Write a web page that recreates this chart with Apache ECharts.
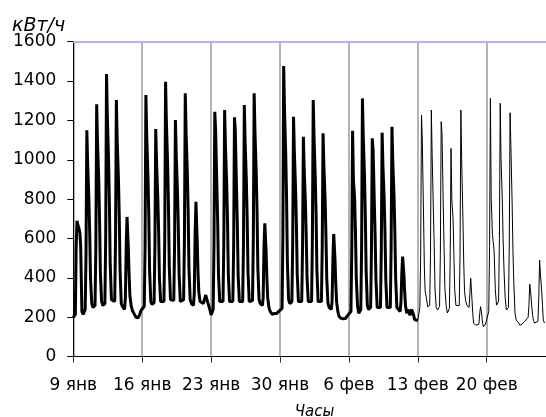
<!DOCTYPE html>
<html><head><meta charset="utf-8">
<script src="https://cdn.jsdelivr.net/npm/echarts@6/dist/echarts.min.js"></script>
<style>html,body{margin:0;padding:0;background:#fff}#c{width:546px;height:417px}</style>
</head><body><div id="c"></div>
<script>
// Tick labels (week starts) and title texts
const weekLabels = ['9 янв', '16 янв', '23 янв', '30 янв', '6 фев', '13 фев', '20 фев'];
const yTitle = 'кВт/ч';
const xTitle = 'Часы';
// Hours of day at which each daily profile was read
const hoursOfDay = [0, 5, 7, 9, 11, 14, 16, 18, 21];
// Load, kW, one row per day
const week1 = [ // 9–15 янв
  [200, 215, 560, 690, 670, 650, 630, 560, 230],
  [215, 240, 520, 1150, 980, 800, 630, 400, 270],
  [250, 260, 560, 1282, 1090, 900, 700, 430, 280],
  [260, 270, 600, 1436, 1220, 1000, 780, 470, 290],
  [285, 280, 600, 1304, 1100, 910, 720, 440, 270],
  [254, 240, 300, 560, 710, 560, 420, 310, 260],
  [235, 215, 205, 200, 200, 198, 205, 215, 235]
];
const week2 = [ // 16–22 янв
  [240, 255, 560, 1329, 1130, 920, 730, 440, 280],
  [265, 275, 560, 1157, 990, 810, 640, 400, 280],
  [270, 280, 600, 1397, 1190, 980, 770, 460, 290],
  [280, 285, 580, 1202, 1020, 840, 660, 420, 280],
  [280, 290, 600, 1338, 1140, 940, 740, 450, 290],
  [270, 260, 320, 620, 787, 600, 430, 330, 280],
  [275, 270, 272, 300, 313, 290, 275, 265, 240]
];
const week3 = [ // 23–29 янв
  [212, 240, 560, 1244, 1151, 870, 690, 420, 280],
  [270, 280, 580, 1253, 1070, 880, 690, 420, 280],
  [270, 280, 560, 1216, 1150, 850, 670, 410, 280],
  [270, 280, 580, 1278, 1090, 890, 700, 430, 280],
  [270, 285, 600, 1338, 1140, 940, 740, 450, 290],
  [270, 260, 300, 560, 677, 540, 400, 300, 250],
  [230, 215, 210, 215, 220, 215, 220, 225, 230]
];
const week4 = [ // 30 янв – 5 фев
  [225, 245, 600, 1476, 1250, 1030, 810, 480, 290],
  [270, 280, 580, 1219, 1040, 850, 670, 420, 280],
  [270, 280, 560, 1117, 950, 780, 610, 400, 280],
  [270, 280, 600, 1304, 1110, 910, 720, 440, 280],
  [270, 280, 560, 1135, 970, 800, 620, 400, 270],
  [250, 240, 280, 500, 623, 500, 370, 280, 230],
  [205, 195, 190, 188, 192, 190, 195, 200, 210]
];
const week5 = [ // 6–12 фев
  [210, 230, 540, 1148, 900, 800, 630, 400, 260],
  [220, 240, 560, 1312, 1115, 920, 720, 440, 260],
  [240, 250, 540, 1109, 1050, 780, 610, 390, 250],
  [240, 250, 540, 1138, 970, 800, 630, 390, 250],
  [240, 250, 560, 1168, 990, 820, 640, 400, 250],
  [240, 230, 280, 420, 508, 420, 330, 260, 220],
  [240, 210, 215, 240, 247, 210, 190, 200, 185]
];
const week6 = [ // 13–19 фев
  [186, 250, 520, 1228, 1100, 720, 450, 330, 300],
  [254, 260, 520, 1253, 1025, 740, 560, 340, 250],
  [237, 255, 520, 1194, 1135, 780, 560, 350, 260],
  [222, 245, 500, 1058, 796, 700, 520, 340, 260],
  [250, 260, 520, 1253, 1000, 700, 480, 330, 280],
  [260, 250, 320, 398, 330, 220, 171, 165, 160],
  [160, 165, 220, 254, 230, 170, 152, 155, 165]
];
const week7 = [ // 20–25 фев
  [171, 230, 560, 1312, 800, 620, 580, 540, 340],
  [262, 280, 600, 1287, 1000, 800, 600, 450, 300],
  [237, 250, 560, 1239, 1067, 780, 540, 380, 222],
  [186, 175, 165, 160, 160, 165, 170, 175, 180],
  [186, 200, 260, 369, 330, 254, 210, 185, 171],
  [171, 180, 300, 491, 420, 339, 260, 186, 171]
];
const thinFromDay = 35; // 13 фев: line becomes thin
const hoursPerWeek = 168;
const yMax = 1600;

const days = [].concat(week1, week2, week3, week4, week5, week6, week7);
const thick = [], thin = [];
days.forEach((row, d) => row.forEach((v, j) => {
  const p = [d * 24 + hoursOfDay[j], v];
  (d < thinFromDay ? thick : thin).push(p);
}));
thick.push(thin[0]);

const topLine = {yAxis: yMax};

const font = 'DejaVu Sans';
const chart = echarts.init(document.getElementById('c'));
chart.setOption({
  animation: false,
  backgroundColor: '#fff',
  title: {text: yTitle, left: 12, top: 17, padding: 0,
    textStyle: {fontFamily: font, fontStyle: 'italic', fontWeight: 'normal', fontSize: 19, color: '#000'}},
  grid: {left: 73.3, right: -9.6, top: 41.7, bottom: 60.3, outerBoundsMode: 'none'},
  xAxis: {
    type: 'value', min: 0, max: 1176, interval: hoursPerWeek,
    axisLine: {show: true, onZero: false, lineStyle: {color: '#000', width: 1}},
    axisTick: {show: true, length: 6, lineStyle: {color: '#333'}},
    axisLabel: {margin: 20, fontFamily: font, fontSize: 17, color: '#000',
      formatter: v => weekLabels[Math.round(v / hoursPerWeek)] || ''},
    splitLine: {show: true, lineStyle: {color: '#b4b4b4', width: 2, type: 'solid'}},
    name: xTitle, nameLocation: 'middle', nameGap: 48,
    nameTextStyle: {fontFamily: font, fontStyle: 'italic', fontSize: 15, color: '#000'}
  },
  yAxis: {
    type: 'value', min: 0, max: yMax, interval: 200,
    axisLine: {show: true, lineStyle: {color: '#000', width: 1}},
    axisTick: {show: true, length: 6, lineStyle: {color: '#000'}},
    axisLabel: {margin: 17, fontFamily: font, fontSize: 17, color: '#000',
      formatter: v => String(v)},
    splitLine: {show: false}
  },
  series: [{
    type: 'line', data: thick, showSymbol: false,
    lineStyle: {color: '#000', width: 3}
  }, {
    type: 'line', data: thin, showSymbol: false,
    lineStyle: {color: '#000', width: 1},
    markLine: {
      symbol: 'none', silent: true, label: {show: false},
      lineStyle: {color: '#b8b0f2', type: 'solid', width: 2},
      data: [topLine]
    }
  }]
});
</script></body></html>
